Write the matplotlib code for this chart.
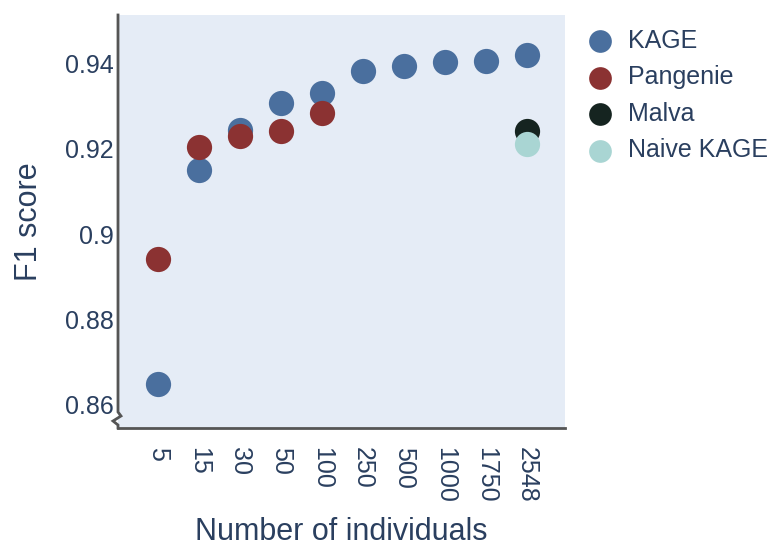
import matplotlib.pyplot as plt

plt.rcParams['font.family'] = ['Liberation Sans', 'DejaVu Sans']

categories = ['5', '15', '30', '50', '100', '250', '500', '1000', '1750', '2548']

kage = [0.8647, 0.9151, 0.9245, 0.9309, 0.9332, 0.9384, 0.9394, 0.9405, 0.9408, 0.9420]
pangenie = [0.8941, 0.9205, 0.9230, 0.9243, 0.9284]
malva = [0.9243]
naive_kage = [0.9212]

colors = {'KAGE': '#4a6f9e', 'Pangenie': '#8b3232',
          'Malva': '#152420', 'Naive KAGE': '#a9d5d3'}
text_col = '#2a3f5f'

fig = plt.figure(figsize=(7.71, 5.46), dpi=100)
ax = fig.add_axes([118 / 771, 118 / 546, 447 / 771, 413 / 546])
ax.set_facecolor('#e5ecf6')

x = list(range(len(categories)))
ms = 330
ax.scatter(x, kage, s=ms, color=colors['KAGE'], label='KAGE', zorder=3, linewidths=0)
ax.scatter(x[:len(pangenie)], pangenie, s=ms, color=colors['Pangenie'],
           label='Pangenie', zorder=4, linewidths=0)
ax.scatter([x[-1]], malva, s=ms, color=colors['Malva'], label='Malva', zorder=5, linewidths=0)
ax.scatter([x[-1]], naive_kage, s=ms, color=colors['Naive KAGE'],
           label='Naive KAGE', zorder=6, linewidths=0)

ax.set_xlim(-0.98, 9.93)
ax.set_ylim(0.8544, 0.9515)
ax.set_xticks(x)
ax.set_xticklabels(categories, rotation=-90, va='top', ha='center')
ax.set_yticks([0.86, 0.88, 0.90, 0.92, 0.94])
ax.set_yticklabels(['0.86', '0.88', '0.9', '0.92', '0.94'])
ax.tick_params(length=0, labelsize=18, labelcolor=text_col)
ax.tick_params(axis='x', pad=14)
ax.tick_params(axis='y', pad=3)

for s in ['top', 'right']:
    ax.spines[s].set_visible(False)
ax.spines['left'].set_visible(False)
ax.spines['bottom'].set_color('#555555')
ax.spines['bottom'].set_linewidth(2)

# left axis line with break mark at the bottom
h = 413
ax.plot([0, 0, 3 / 447, -5 / 447, 0, 0],
        [1, 16 / h, 12 / h, 7 / h, 3 / h, 0],
        transform=ax.transAxes, color='#555555', lw=2, clip_on=False,
        solid_joinstyle='miter', zorder=7)

ax.set_xlabel('Number of individuals', fontsize=22, color=text_col, labelpad=10)
ax.set_ylabel('F1 score', fontsize=22, color=text_col, labelpad=15)

leg = ax.legend(loc='upper left', bbox_to_anchor=(1.045, 0.967), frameon=False,
                fontsize=18, labelcolor=text_col, handlelength=1.2,
                handletextpad=0.5, labelspacing=0.5, markerscale=0.9,
                borderaxespad=0, borderpad=0)

fig.savefig('out.png', dpi=100)
